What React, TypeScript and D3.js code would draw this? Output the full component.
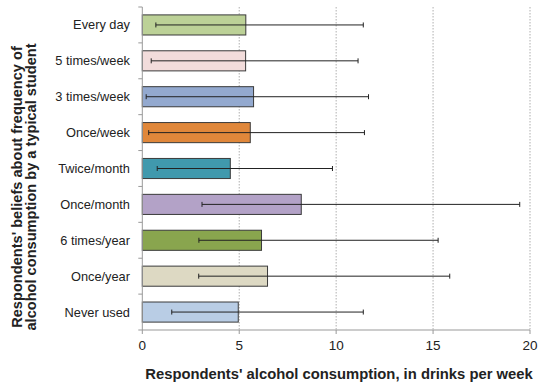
import React from "react";
import * as d3 from "d3";

const categories = ["Every day", "5 times/week", "3 times/week", "Once/week", "Twice/month", "Once/month", "6 times/year", "Once/year", "Never used"];
const means = [5.34, 5.33, 5.74, 5.57, 4.54, 8.2, 6.15, 6.46, 4.95];
const errLow = [0.7, 0.46, 0.2, 0.33, 0.77, 3.08, 2.92, 2.91, 1.52];
const errHigh = [11.4, 11.13, 11.67, 11.46, 9.81, 19.47, 15.26, 15.86, 11.4];
const colors = ["#bcd197", "#f2dcdb", "#93a9cf", "#e0873a", "#4099ad", "#b3a2c7", "#89a54e", "#ddd9c3", "#b9cde5"];
const xTicks = [0, 5, 10, 15, 20];

export default function App() {
  const W = 543, H = 385;
  const left = 142.3, right = 530, top = 7, bottom = 330;
  const x = d3.scaleLinear().domain([0, 20]).range([left, right]);
  const y = d3.scaleBand().domain(categories).range([top, bottom]).paddingInner(0.44).paddingOuter(0.22);
  const bandStep = (bottom - top) / categories.length;
  const font = "Liberation Sans, Arial, sans-serif";
  return (
    <svg width={W} height={H} style={{ position: "absolute", left: 0, top: 0, background: "#fff" }} fontFamily={font}>
      {xTicks.filter(t => t > 0).map(t => (
        <line key={"g" + t} x1={x(t)} x2={x(t)} y1={top} y2={bottom} stroke="#9a9a9a" strokeWidth={0.8} strokeDasharray="1.5,1.5" />
      ))}
      {categories.map((c, i) => (
        <g key={c}>
          <rect x={x(0)} y={y(c)!} width={x(means[i]) - x(0)} height={y.bandwidth()} fill={colors[i]} stroke="#3a3a3a" strokeWidth={1} />
          <line x1={x(errLow[i])} x2={x(errHigh[i])} y1={y(c)! + y.bandwidth() / 2} y2={y(c)! + y.bandwidth() / 2} stroke="#222" strokeWidth={1} />
          <line x1={x(errLow[i])} x2={x(errLow[i])} y1={y(c)! + y.bandwidth() / 2 - 2.5} y2={y(c)! + y.bandwidth() / 2 + 2.5} stroke="#222" strokeWidth={1} />
          <line x1={x(errHigh[i])} x2={x(errHigh[i])} y1={y(c)! + y.bandwidth() / 2 - 2.5} y2={y(c)! + y.bandwidth() / 2 + 2.5} stroke="#222" strokeWidth={1} />
          <text x={130} y={y(c)! + y.bandwidth() / 2} dy="0.35em" textAnchor="end" fontSize={12.8} fill="#222">{c}</text>
        </g>
      ))}
      <line x1={left} x2={left} y1={top} y2={bottom} stroke="#999" strokeWidth={1} />
      {d3.range(categories.length + 1).map(i => (
        <line key={"yt" + i} x1={left - 4} x2={left} y1={top + i * bandStep} y2={top + i * bandStep} stroke="#999" strokeWidth={1} />
      ))}
      <line x1={left} x2={right} y1={bottom} y2={bottom} stroke="#999" strokeWidth={1} />
      {xTicks.map(t => (
        <g key={"xt" + t}>
          <line x1={x(t)} x2={x(t)} y1={bottom} y2={bottom + 4} stroke="#999" strokeWidth={1} />
          <text x={x(t)} y={350} textAnchor="middle" fontSize={13.5} fill="#222">{t}</text>
        </g>
      ))}
      <text x={339} y={379} textAnchor="middle" fontSize={14.8} fontWeight="bold" fill="#222">Respondents' alcohol consumption, in drinks per week</text>
      <g transform="translate(0,187) rotate(-90)">
        <text x={0} y={22} textAnchor="middle" fontSize={14.6} fontWeight="bold" fill="#222">Respondents' beliefs about frequency of</text>
        <text x={0} y={36} textAnchor="middle" fontSize={14.6} fontWeight="bold" fill="#222">alcohol consumption by a typical student</text>
      </g>
    </svg>
  );
}
